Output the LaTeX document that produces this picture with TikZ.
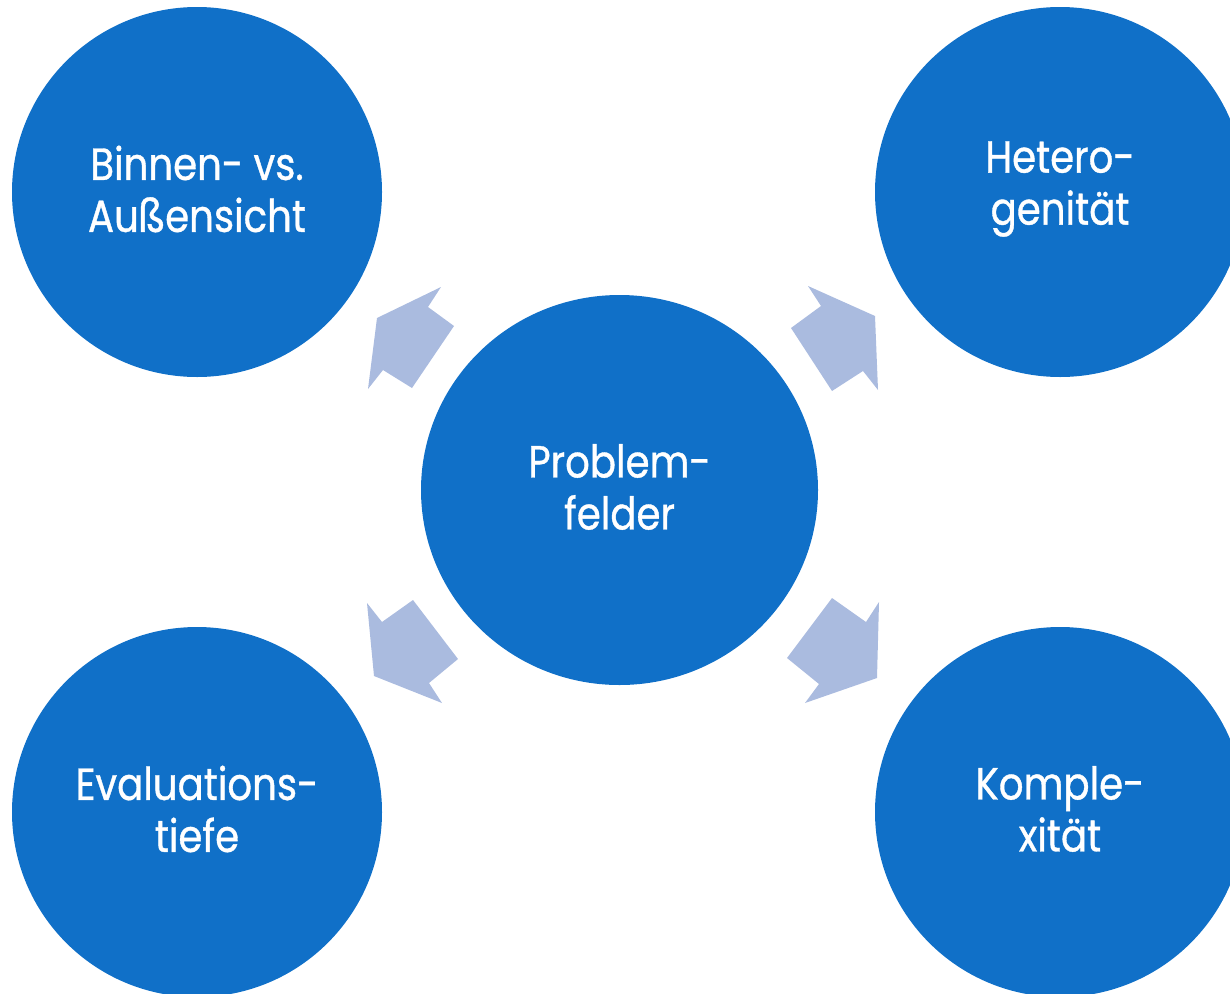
\documentclass[tikz,border=0pt]{standalone}
\usepackage{fontspec}
\setmainfont{Poppins}[FakeStretch=0.86,FakeBold=0.8]
\usetikzlibrary{shapes.geometric}
\definecolor{circblue}{HTML}{1070C8}
\definecolor{arrowblue}{HTML}{AABBDF}
\tikzset{
  bubble/.style={circle, fill=circblue, draw=none, minimum size=370pt, inner sep=0pt},
  hub/.style={ellipse, fill=circblue, draw=none, minimum width=397pt, minimum height=390pt, inner sep=0pt},
  label/.style={text=white, align=center, font=\fontsize{45}{52}\selectfont, inner sep=0pt},
  blockarrow/.style={fill=arrowblue, draw=none}
}
\begin{document}
\begin{tikzpicture}[x=1pt,y=-1pt]
\useasboundingbox (0,0) rectangle (1230,993);
\clip (0,0) rectangle (1230,993);
\node[hub] (center) at (619.5,490) {};
\node[bubble] (tl) at (197,192) {};
\node[bubble] (tr) at (1060,192) {};
\node[bubble] (bl) at (197,812) {};
\node[bubble] (br) at (1060,812) {};
\node[label] (centertext) at ([yshift=3pt]center.center) {Problem-\\felder};
\node[label] (tltext) at ([yshift=3pt]tl.center) {Binnen- vs.\\Außensicht};
\node[label] (trtext) at ([yshift=3pt]tr.center) {Hetero-\\genität};
\node[label] (bltext) at ([yshift=3pt]bl.center) {Evaluations-\\tiefe};
\node[label] (brtext) at ([yshift=3pt]br.center) {Komple-\\xität};
% arrows
\fill[blockarrow] (441,287) -- (428,307) -- (454,326) -- (412,388) -- (383,370) -- (368,389) -- (377,318) -- cycle;
\fill[blockarrow] (808,286) -- (821,306) -- (791,328) -- (832,391) -- (863,371) -- (878,390) -- (875,316) -- cycle;
\fill[blockarrow] (367,603) -- (382,622) -- (413,600) -- (458,659) -- (429,683) -- (442,703) -- (374,676) -- cycle;
\fill[blockarrow] (832,598) -- (866,622) -- (879,602) -- (877,678) -- (805,703) -- (819,684) -- (787,658) -- cycle;
\end{tikzpicture}
\end{document}
